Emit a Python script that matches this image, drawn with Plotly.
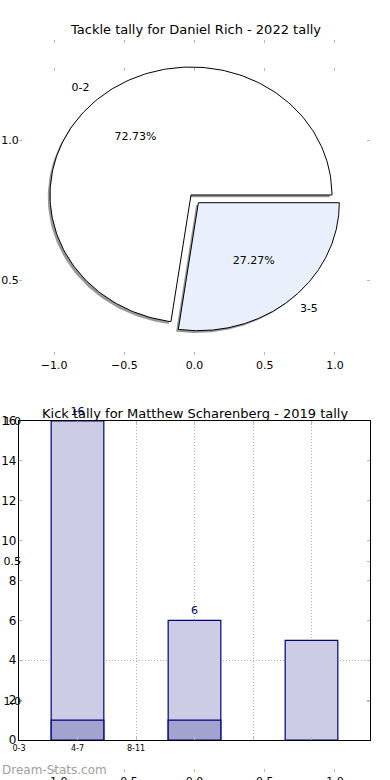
import numpy as np
import plotly.graph_objects as go

# ---------------- data ----------------
pie_title = "Tackle tally for Daniel Rich - 2022 tally"
pie_labels = ["0-2", "3-5"]
pie_values = [8, 3]
pie_colors = ["#ffffff", "#eaf0fb"]
pie_explode = [0.0, 0.08]

kick_title = "Kick tally for Matthew Scharenberg - 2019 tally"
kick_tick_labels = ["0-3", "4-7", "8-11", "", "", ""]
kick_positions = [1, 3, 5]
kick_values = [16, 6, 5]
kick_value_text = ["16", "6", ""]
kick_inner_values = [1, 1, None]

pie_xticks = [-1.0, -0.5, 0.0, 0.5, 1.0]
pie_yticks = [1.0, 0.5]
ghost_yticks = [1.0, 0.5, 0.0]
ghost_yticktext = ["1.0", "0.5", "1.0"]
kick_yticks = list(range(0, 17, 2))

# ---------------- layout helpers ----------------
W, H = 390, 780
FONT = "DejaVu Sans"
TICKC = "#b8b8b8"
GRIDC = "#b0b0b0"
DOT = "1px,2px"


def py(p):
    return 1 - p / H


def px(p):
    return p / W


# pie geometry (axes data units)
CX, CY = -0.025, 0.8036
RX, RY = 1.004, 0.457
SH_DX, SH_DY = -0.016, -0.008

fig = go.Figure()

total = float(sum(pie_values))
fracs = [v / total for v in pie_values]
start = 0.0
wedges = []
for lab, frac, col, ex in zip(pie_labels, fracs, pie_colors, pie_explode):
    a0 = start * 2 * np.pi
    a1 = (start + frac) * 2 * np.pi
    mid = (a0 + a1) / 2
    ox = ex * RX * np.cos(mid)
    oy = ex * RY * np.sin(mid)
    th = np.linspace(a0, a1, 200)
    xs = np.concatenate([[CX + ox], CX + ox + RX * np.cos(th), [CX + ox]])
    ys = np.concatenate([[CY + oy], CY + oy + RY * np.sin(th), [CY + oy]])
    wedges.append((lab, frac, col, mid, ox, oy, xs, ys))
    start += frac

for lab, frac, col, mid, ox, oy, xs, ys in wedges:
    fig.add_trace(go.Scatter(x=xs + SH_DX, y=ys + SH_DY, mode="lines", fill="toself",
                             fillcolor="rgba(70,70,70,0.55)", line=dict(width=0),
                             hoverinfo="skip", showlegend=False, xaxis="x", yaxis="y"))
    fig.add_trace(go.Scatter(x=xs, y=ys, mode="lines", fill="toself", fillcolor=col,
                             line=dict(color="black", width=1), hoverinfo="skip",
                             showlegend=False, xaxis="x", yaxis="y"))

for lab, frac, col, mid, ox, oy, xs, ys in wedges:
    c, s = np.cos(mid), np.sin(mid)
    fig.add_trace(go.Scatter(
        x=[CX + ox + 1.1 * RX * c], y=[CY + oy + 1.1 * RY * s], mode="text",
        text=[lab], textposition="middle left" if c < 0 else "middle right",
        textfont=dict(family=FONT, size=11, color="black"),
        showlegend=False, hoverinfo="skip", xaxis="x", yaxis="y", cliponaxis=False))
    fig.add_trace(go.Scatter(
        x=[CX + ox + 0.6 * RX * c], y=[CY + oy + 0.6 * RY * s], mode="text",
        text=["%.2f%%" % (frac * 100)], textposition="middle center",
        textfont=dict(family=FONT, size=11, color="black"),
        showlegend=False, hoverinfo="skip", xaxis="x", yaxis="y", cliponaxis=False))

# bars
fig.add_trace(go.Bar(x=kick_positions, y=kick_values, width=0.9,
                     marker=dict(color="#ccccE4", line=dict(color="#000080", width=1.2)),
                     text=kick_value_text, textposition="outside", cliponaxis=False,
                     textfont=dict(family=FONT, size=11, color="#000080"),
                     showlegend=False, hoverinfo="skip", xaxis="x2", yaxis="y2"))
fig.add_trace(go.Bar(x=kick_positions, y=kick_inner_values, width=0.9,
                     marker=dict(color="#a3a3d0", line=dict(color="#000080", width=1.2)),
                     showlegend=False, hoverinfo="skip", xaxis="x2", yaxis="y2"))

tickfont = dict(family=FONT, size=11, color="black")
XDOM = [px(19), px(370)]

fig.update_layout(
    width=W, height=H, margin=dict(l=0, r=0, t=0, b=0, autoexpand=False),
    paper_bgcolor="white", plot_bgcolor="rgba(0,0,0,0)",
    barmode="overlay", showlegend=False,
    xaxis=dict(domain=XDOM, range=[-1.25, 1.25], anchor="y", automargin=False,
               tickvals=pie_xticks, tickformat=".1f", ticks="inside", ticklen=3, tickcolor=TICKC,
               mirror="ticks", showline=True, linecolor="rgba(0,0,0,0)",
               showgrid=False, zeroline=False, tickfont=tickfont),
    yaxis=dict(domain=[py(355), py(40)], range=[1.0 - 215 / 280, 1.0 + 100 / 280], anchor="x",
               automargin=False, ticklabelstandoff=-3,
               tickvals=pie_yticks, tickformat=".1f", ticks="inside", ticklen=3, tickcolor=TICKC,
               mirror="ticks", showline=True, linecolor="rgba(0,0,0,0)",
               showgrid=False, zeroline=False, tickfont=tickfont),
    xaxis3=dict(overlaying="x", anchor="free", position=py(71), range=[-1.25, 1.25],
                automargin=False,
                tickvals=pie_xticks, ticks="inside", ticklen=3, tickcolor=TICKC,
                showticklabels=False, showgrid=False, zeroline=False, showline=False),
    xaxis2=dict(domain=XDOM, range=[0, 6], anchor="y2", automargin=False,
                tickvals=list(range(len(kick_tick_labels))), ticktext=kick_tick_labels,
                ticks="inside", ticklen=3, tickcolor=TICKC,
                showgrid=True, gridcolor=GRIDC, griddash=DOT, gridwidth=1,
                showline=True, linecolor="black", linewidth=1.2, mirror="ticks",
                zeroline=False, tickfont=dict(family=FONT, size=8, color="black")),
    yaxis2=dict(domain=[py(740), py(421)], range=[0, 16], anchor="x2", automargin=False,
                tickvals=kick_yticks, ticks="inside", ticklen=3, tickcolor=TICKC,
                ticklabelstandoff=-1,
                showgrid=False, showline=True, linecolor="black", linewidth=1.2,
                mirror="ticks", zeroline=False,
                tickfont=dict(family=FONT, size=12, color="black")),
    yaxis4=dict(overlaying="y2", anchor="x2", range=[0, 16], tickvals=[4], automargin=False,
                showticklabels=False, ticks="", showgrid=True, gridcolor=GRIDC,
                griddash=DOT, zeroline=False, showline=False),
    yaxis3=dict(overlaying="y2", anchor="x2", range=[1.0 - 319 / 280, 1.0], automargin=False,
                tickvals=ghost_yticks, ticktext=ghost_yticktext, ticks="inside", ticklen=3,
                ticklabelstandoff=-3,
                tickcolor=TICKC, mirror="ticks", showgrid=False, zeroline=False,
                showline=False, tickfont=tickfont),
    xaxis4=dict(overlaying="x2", anchor="free", position=py(768), range=[-1.25, 1.25],
                automargin=False, tickformat=".1f",
                tickvals=pie_xticks, ticks="outside", ticklen=3, tickcolor=TICKC,
                showgrid=False, zeroline=False, showline=False, tickfont=tickfont),
    annotations=[
        dict(text=pie_title, xref="paper", yref="paper", x=0.5, y=py(30),
             showarrow=False, font=dict(family=FONT, size=13, color="black"),
             xanchor="center", yanchor="middle"),
        dict(text=kick_title, xref="paper", yref="paper", x=0.5, y=py(413),
             showarrow=False, font=dict(family=FONT, size=13, color="black"),
             xanchor="center", yanchor="middle"),
        dict(text="Dream-Stats.com", xref="paper", yref="paper", x=0, y=py(770),
             showarrow=False, font=dict(family=FONT, size=12, color="#a0a0a0"),
             xanchor="left", yanchor="middle"),
    ],
)

# invisible placeholder traces so the overlay axes render
fig.add_trace(go.Scatter(x=[None], y=[None], xaxis="x3", yaxis="y", showlegend=False))
fig.add_trace(go.Scatter(x=[None], y=[None], xaxis="x2", yaxis="y3", showlegend=False))
fig.add_trace(go.Scatter(x=[None], y=[None], xaxis="x2", yaxis="y4", showlegend=False))
fig.add_trace(go.Scatter(x=[None], y=[None], xaxis="x4", yaxis="y2", showlegend=False))

fig.write_html("out.html", config={"displayModeBar": False},
               post_script="document.body.style.margin='0';document.body.style.overflow='hidden';")
